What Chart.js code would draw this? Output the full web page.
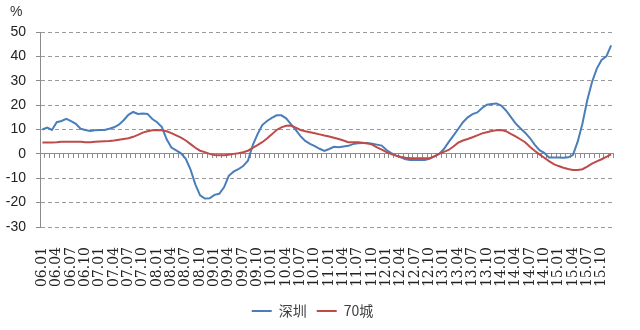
<!DOCTYPE html>
<html>
<head>
<meta charset="utf-8">
<script src="https://cdn.jsdelivr.net/npm/chart.js@4/dist/chart.umd.min.js"></script>
<style>
  html, body { margin: 0; padding: 0; background: #fff; }
  #wrap { width: 640px; height: 330px; }
</style>
</head>
<body>
<div id="wrap"><canvas id="chart"></canvas></div>
<script>
// months 06.01 .. 15.12
const years = ['06', '07', '08', '09', '10', '11', '12', '13', '14', '15'];
const months = ['01', '02', '03', '04', '05', '06', '07', '08', '09', '10', '11', '12'];
const categories = [];
years.forEach(y => months.forEach(m => categories.push(y + '.' + m)));

// only every 3rd month gets a label
const labelEvery = 3;

const shenzhen = [
  10.0, 10.8, 9.8, 13.0, 13.5, 14.4, 13.4, 12.3, 10.3, 9.8, 9.4, 9.7,
  9.8, 9.8, 10.3, 10.9, 12.0, 13.8, 16.0, 17.2, 16.4, 16.6, 16.4, 14.3,
  13.0, 11.0, 6.0, 2.6, 1.4, 0.2, -2.0, -6.5, -12.5, -17.0, -18.3, -18.2,
  -16.8, -16.4, -13.7, -9.0, -7.3, -6.3, -5.0, -2.8, 3.5, 8.0, 11.8, 13.5,
  14.8, 15.8, 15.8, 14.6, 12.2, 9.8, 7.3, 5.3, 4.1, 3.2, 2.1, 1.2,
  2.0, 2.9, 2.7, 3.0, 3.3, 4.0, 4.4, 4.5, 4.5, 4.2, 3.8, 3.4,
  1.6, 0.3, -0.7, -1.4, -2.2, -2.5, -2.5, -2.5, -2.5, -2.0, -1.0, 0.0,
  2.0, 4.8, 7.5, 10.2, 13.0, 15.0, 16.3, 17.0, 18.8, 20.2, 20.5, 20.7,
  19.8, 17.8, 15.2, 12.5, 10.5, 8.7, 6.5, 3.8, 1.5, 0.4, -1.5, -1.5,
  -1.5, -1.6, -1.4, -0.5, 5.0, 12.5, 22.0, 29.5, 35.0, 38.5, 40.0, 44.5
];

const city70 = [
  4.7, 4.7, 4.7, 4.8, 5.0, 5.0, 5.0, 5.0, 5.0, 4.8, 4.8, 5.0,
  5.1, 5.2, 5.3, 5.5, 5.8, 6.1, 6.4, 7.0, 7.8, 8.7, 9.3, 9.7,
  9.8, 9.7, 9.3, 8.5, 7.6, 6.7, 5.5, 4.0, 2.5, 1.3, 0.7, 0.0,
  -0.5, -0.6, -0.6, -0.4, 0.0, 0.3, 0.7, 1.3, 2.5, 3.6, 4.8, 6.3,
  8.0, 9.8, 10.9, 11.5, 11.6, 10.8, 9.8, 9.3, 8.9, 8.5, 8.0, 7.5,
  7.1, 6.6, 6.1, 5.5, 4.8, 4.8, 4.8, 4.6, 4.3, 3.8, 2.7, 1.7,
  0.7, -0.1, -0.7, -1.3, -1.6, -1.8, -1.8, -1.8, -1.8, -1.8, -1.0, 0.0,
  0.8, 1.6, 3.0, 4.6, 5.5, 6.1, 6.8, 7.6, 8.4, 8.9, 9.4, 9.7,
  9.8, 9.3, 8.2, 7.2, 6.0, 4.8, 2.9, 1.3, -0.2, -1.6, -3.0, -4.2,
  -5.0, -5.7, -6.2, -6.6, -6.6, -6.3, -5.2, -4.0, -3.1, -2.2, -1.2, -0.2
];

const yTicks = { min: -30, max: 50, step: 10 };

const BLUE = '#4A7EBB';
const RED = '#BE4B48';
const GRID = '#9a9a9a';
const AXIS = '#8c8c8c';

// "%" unit above the y axis
const unitLabel = {
  id: 'unitLabel',
  afterDraw(chart) {
    const ctx = chart.ctx;
    ctx.save();
    ctx.font = '14px "Liberation Sans", Arial, sans-serif';
    ctx.fillStyle = '#333';
    ctx.textBaseline = 'middle';
    ctx.fillText('%', 10, 12);
    ctx.restore();
  }
};

new Chart(document.getElementById('chart'), {
  type: 'line',
  data: {
    labels: categories,
    datasets: [
      { label: '深圳', data: shenzhen, borderColor: BLUE, backgroundColor: BLUE,
        borderWidth: 2, pointRadius: 0, tension: 0, order: 1 },
      { label: '70城', data: city70, borderColor: RED, backgroundColor: RED,
        borderWidth: 2, pointRadius: 0, tension: 0, order: 0 },
    ],
  },
  options: {
    responsive: true,
    maintainAspectRatio: false,
    animation: false,
    layout: { padding: { top: 32, right: 15, bottom: 2, left: 0 } },
    plugins: {
      tooltip: { enabled: false },
      legend: {
        position: 'bottom',
        labels: {
          usePointStyle: true,
          pointStyle: 'line',
          pointStyleWidth: 20,
          boxHeight: 2,
          padding: 10,
          color: '#404040',
          font: { family: '"Noto Sans CJK SC", "Noto Sans", sans-serif', size: 14 },
          sort: (a, b) => a.datasetIndex - b.datasetIndex,
        },
      },
    },
    scales: {
      x: {
        type: 'category',
        offset: true,
        grid: { display: false },
        border: { display: false },
        ticks: {
          autoSkip: false,
          maxRotation: 90,
          minRotation: 90,
          padding: 12,
          color: '#222',
          font: { family: '"DejaVu Serif", serif', size: 14 },
          callback: (v, i) => (i % labelEvery === 0 ? categories[i] : ''),
        },
        afterFit(scale) { scale.height = 67; },
      },
      // axis line and category tick marks at zero
      x0: {
        type: 'category',
        position: { y: 0 },
        offset: true,
        grid: { drawOnChartArea: false, offset: true, tickLength: 4, color: AXIS },
        border: { color: AXIS, width: 1 },
        ticks: { display: false },
      },
      y: {
        min: yTicks.min,
        max: yTicks.max,
        grid: {
          color: ctx => (ctx.tick && ctx.tick.value === 0 ? 'rgba(0,0,0,0)' : GRID),
          tickLength: 4,
          tickColor: AXIS,
        },
        border: { color: AXIS, width: 1, dash: [4, 3] },
        ticks: {
          stepSize: yTicks.step,
          padding: 10,
          color: '#222',
          font: { family: '"Liberation Sans", Arial, sans-serif', size: 14 },
        },
        afterFit(scale) { scale.width = 40; },
      },
    },
  },
  plugins: [unitLabel],
});
</script>
</body>
</html>
